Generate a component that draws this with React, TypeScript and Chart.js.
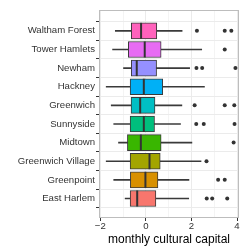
import { useEffect, useRef } from "react";
import { Chart, registerables } from "chart.js";

Chart.register(...registerables);
const FAMILY = "'Liberation Sans', Arial, sans-serif";
Chart.defaults.font.family = FAMILY;

// Categories, top to bottom
const districts = [
  "Waltham Forest",
  "Tower Hamlets",
  "Newham",
  "Hackney",
  "Greenwich",
  "Sunnyside",
  "Midtown",
  "Greenwich Village",
  "Greenpoint",
  "East Harlem",
];
const whiskerLow = [-1.34, -1.46, -0.98, -1.74, -1.52, -1.41, -1.2, -1.74, -1.41, -0.91];
const q1 = [-0.64, -0.77, -0.64, -0.69, -0.65, -0.69, -0.81, -0.69, -0.68, -0.69];
const median = [-0.21, -0.05, -0.4, -0.09, -0.25, -0.09, -0.22, 0.16, -0.02, -0.38];
const q3 = [0.48, 0.67, 0.47, 0.74, 0.4, 0.38, 0.67, 0.63, 0.53, 0.44];
const whiskerHigh = [1.59, 2.45, 1.92, 2.57, 1.58, 1.52, 2.02, 2.42, 1.89, 1.88];
const outliers = [
  [2.24, 3.46, 3.75],
  [3.46],
  [2.22, 2.47, 3.93],
  [],
  [2.14, 3.46, 3.88],
  [2.21, 2.54, 3.89],
  [3.85],
  [2.66],
  [3.17, 3.46],
  [2.67, 2.91, 3.57],
];
const boxColors = [
  "#FF62BC",
  "#E76BF3",
  "#9590FF",
  "#00B0F6",
  "#00BFC4",
  "#00BF7D",
  "#39B600",
  "#A3A500",
  "#D89000",
  "#F8766D",
];
const xTicks = [-2, -1, 0, 1, 2, 3, 4];
const xTitle = "monthly cultural capital";

const panelBorder = {
  id: "panelBorder",
  afterDatasetsDraw(chart: any) {
    const { left, top, right, bottom } = chart.chartArea;
    const ctx = chart.ctx;
    ctx.save();
    ctx.strokeStyle = "#bdbdbd";
    ctx.lineWidth = 1;
    ctx.strokeRect(left + 0.5, top + 0.5, right - left - 1, bottom - top - 1);
    ctx.restore();
  },
};

export default function App() {
  const ref = useRef<HTMLCanvasElement>(null);
  useEffect(() => {
    const rows = districts.map((_, i) => i + 1);
    const outlierPts: { x: number; y: number }[] = [];
    outliers.forEach((arr, i) => arr.forEach((v) => outlierPts.push({ x: v, y: i + 1 })));
    const fmt = (v: number) => (v < 0 ? "\u2212" + Math.abs(v) : String(v));
    const chart = new Chart(ref.current!, {
      type: "bar",
      data: {
        datasets: [
          {
            type: "bar",
            label: "whisker",
            data: rows.map((r, i) => ({ y: r, x: [whiskerLow[i], whiskerHigh[i]] })) as any,
            backgroundColor: "#3a3a3a",
            barThickness: 1,
            grouped: false,
            order: 3,
          } as any,
          {
            type: "bar",
            label: "box",
            data: rows.map((r, i) => ({ y: r, x: [q1[i], q3[i]] })) as any,
            backgroundColor: boxColors,
            borderColor: "#3a3a3a",
            borderWidth: 1,
            borderSkipped: false,
            barThickness: 16,
            grouped: false,
            order: 2,
          } as any,
          {
            type: "scatter",
            label: "median",
            data: rows.map((r, i) => ({ x: median[i], y: r })),
            pointStyle: "line",
            rotation: 90,
            radius: 8,
            borderWidth: 2,
            borderColor: "#333333",
            order: 1,
          } as any,
          {
            type: "scatter",
            label: "outliers",
            data: outlierPts,
            pointStyle: "circle",
            radius: 2,
            backgroundColor: "#333333",
            borderWidth: 0,
            order: 0,
          } as any,
        ],
      },
      options: {
        indexAxis: "y",
        animation: false,
        responsive: false,
        events: [],
        layout: { padding: { top: 4, right: 7, left: 0, bottom: 0 } },
        plugins: { legend: { display: false }, tooltip: { enabled: false } },
        scales: {
          x: {
            type: "linear",
            min: -2.056,
            max: 4.086,
            afterBuildTicks: (s: any) => {
              s.ticks = xTicks.map((v) => ({ value: v }));
            },
            afterFit: (s: any) => {
              s.height = 31;
            },
            ticks: {
              autoSkip: false,
              maxRotation: 0,
              padding: 0,
              color: "#333333",
              font: { size: 9.6, family: FAMILY },
              callback: (v: any) => (Number(v) % 2 === 0 ? fmt(Number(v)) : ""),
            },
            grid: {
              color: (c: any) => (c.tick && Math.abs(c.tick.value) % 2 === 1 ? "#f4f4f4" : "#ebebeb"),
              tickColor: (c: any) => (c.tick && Math.abs(c.tick.value) % 2 === 1 ? "rgba(0,0,0,0)" : "#333333"),
              tickLength: 3,
            },
            border: { display: false },
            title: {
              display: true,
              text: xTitle,
              color: "#000000",
              font: { size: 12, family: FAMILY },
              padding: { top: 0, bottom: 2 },
            },
          },
          y: {
            type: "linear",
            reverse: true,
            min: 0.44,
            max: 10.49,
            afterBuildTicks: (s: any) => {
              s.ticks = rows.map((v) => ({ value: v }));
            },
            afterFit: (s: any) => {
              s.width = 99;
            },
            ticks: {
              autoSkip: false,
              padding: 1,
              color: "#333333",
              font: { size: 9.6, family: FAMILY },
              callback: (v: any) => districts[Number(v) - 1] ?? "",
            },
            grid: { color: "#ebebeb", tickColor: "#333333", tickLength: 3 },
            border: { display: false },
          },
        },
      } as any,
      plugins: [panelBorder],
    });
    return () => chart.destroy();
  }, []);
  return (
    <div style={{ position: "absolute", left: 0, top: 0, width: 249, height: 249 }}>
      <canvas ref={ref} width={249} height={249} />
    </div>
  );
}
